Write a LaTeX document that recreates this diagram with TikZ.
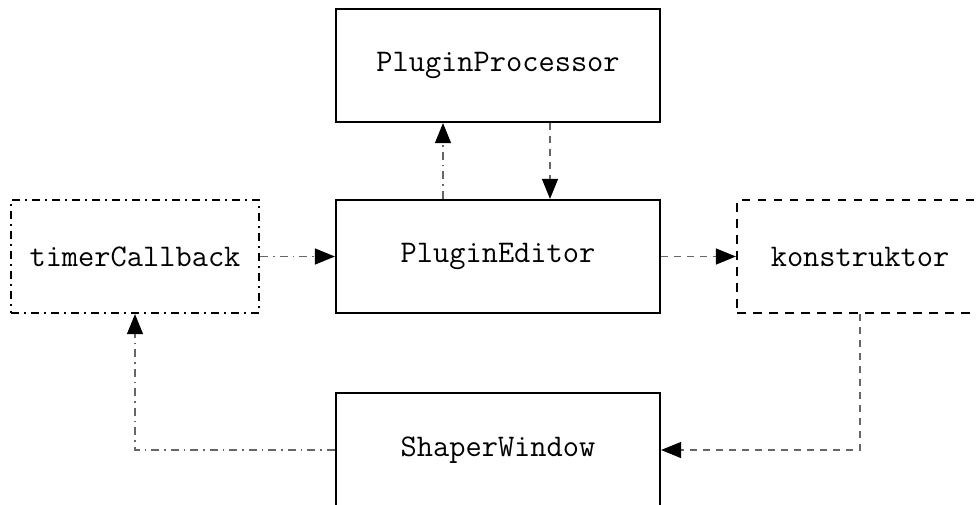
\documentclass[tikz,border=0pt]{standalone}
\usetikzlibrary{arrows.meta}
\begin{document}
\begin{tikzpicture}[x=1pt,y=-1pt,
  box/.style={draw=black, line width=2.2pt, rectangle, inner sep=0pt,
    minimum height=113pt, font=\fontsize{31.5}{36}\selectfont\ttfamily},
  conn/.style={draw=black!60, line width=1.2pt,
    -{Triangle[length=20pt,width=16pt,fill=black,color=black]}},
  cdash/.style={dash pattern=on 7pt off 6pt},
  cdot/.style={dash pattern=on 8pt off 5pt on 1.5pt off 5pt}]
\useasboundingbox (0,0) rectangle (977,504);
\node[box, minimum width=324pt] (proc) at (498,65.5) {PluginProcessor};
\node[box, minimum width=324pt] (edit) at (498,256.5) {PluginEditor};
\node[box, minimum width=324pt, minimum height=114pt] (shaper) at (498,450) {ShaperWindow};
\node[box, minimum width=248pt, dash pattern=on 8pt off 5pt on 2pt off 5pt] (timer) at (135,256.5) {timerCallback};
\node[box, minimum width=246pt, dash pattern=on 8.5pt off 7.5pt] (kon) at (860,256.5) {konstruktor};
\draw[conn,cdot] (timer.east) -- (edit.west);
\draw[conn,cdash] (edit.east) -- (kon.west);
\draw[conn,cdot] ([xshift=-55pt]edit.north) -- ([xshift=-55pt]proc.south);
\draw[conn,cdash] ([xshift=52pt]proc.south) -- ([xshift=52pt]edit.north);
\draw[conn,cdash] (kon.south) |- (shaper.east);
\draw[conn,cdot] (shaper.west) -| (timer.south);
\end{tikzpicture}
\end{document}
